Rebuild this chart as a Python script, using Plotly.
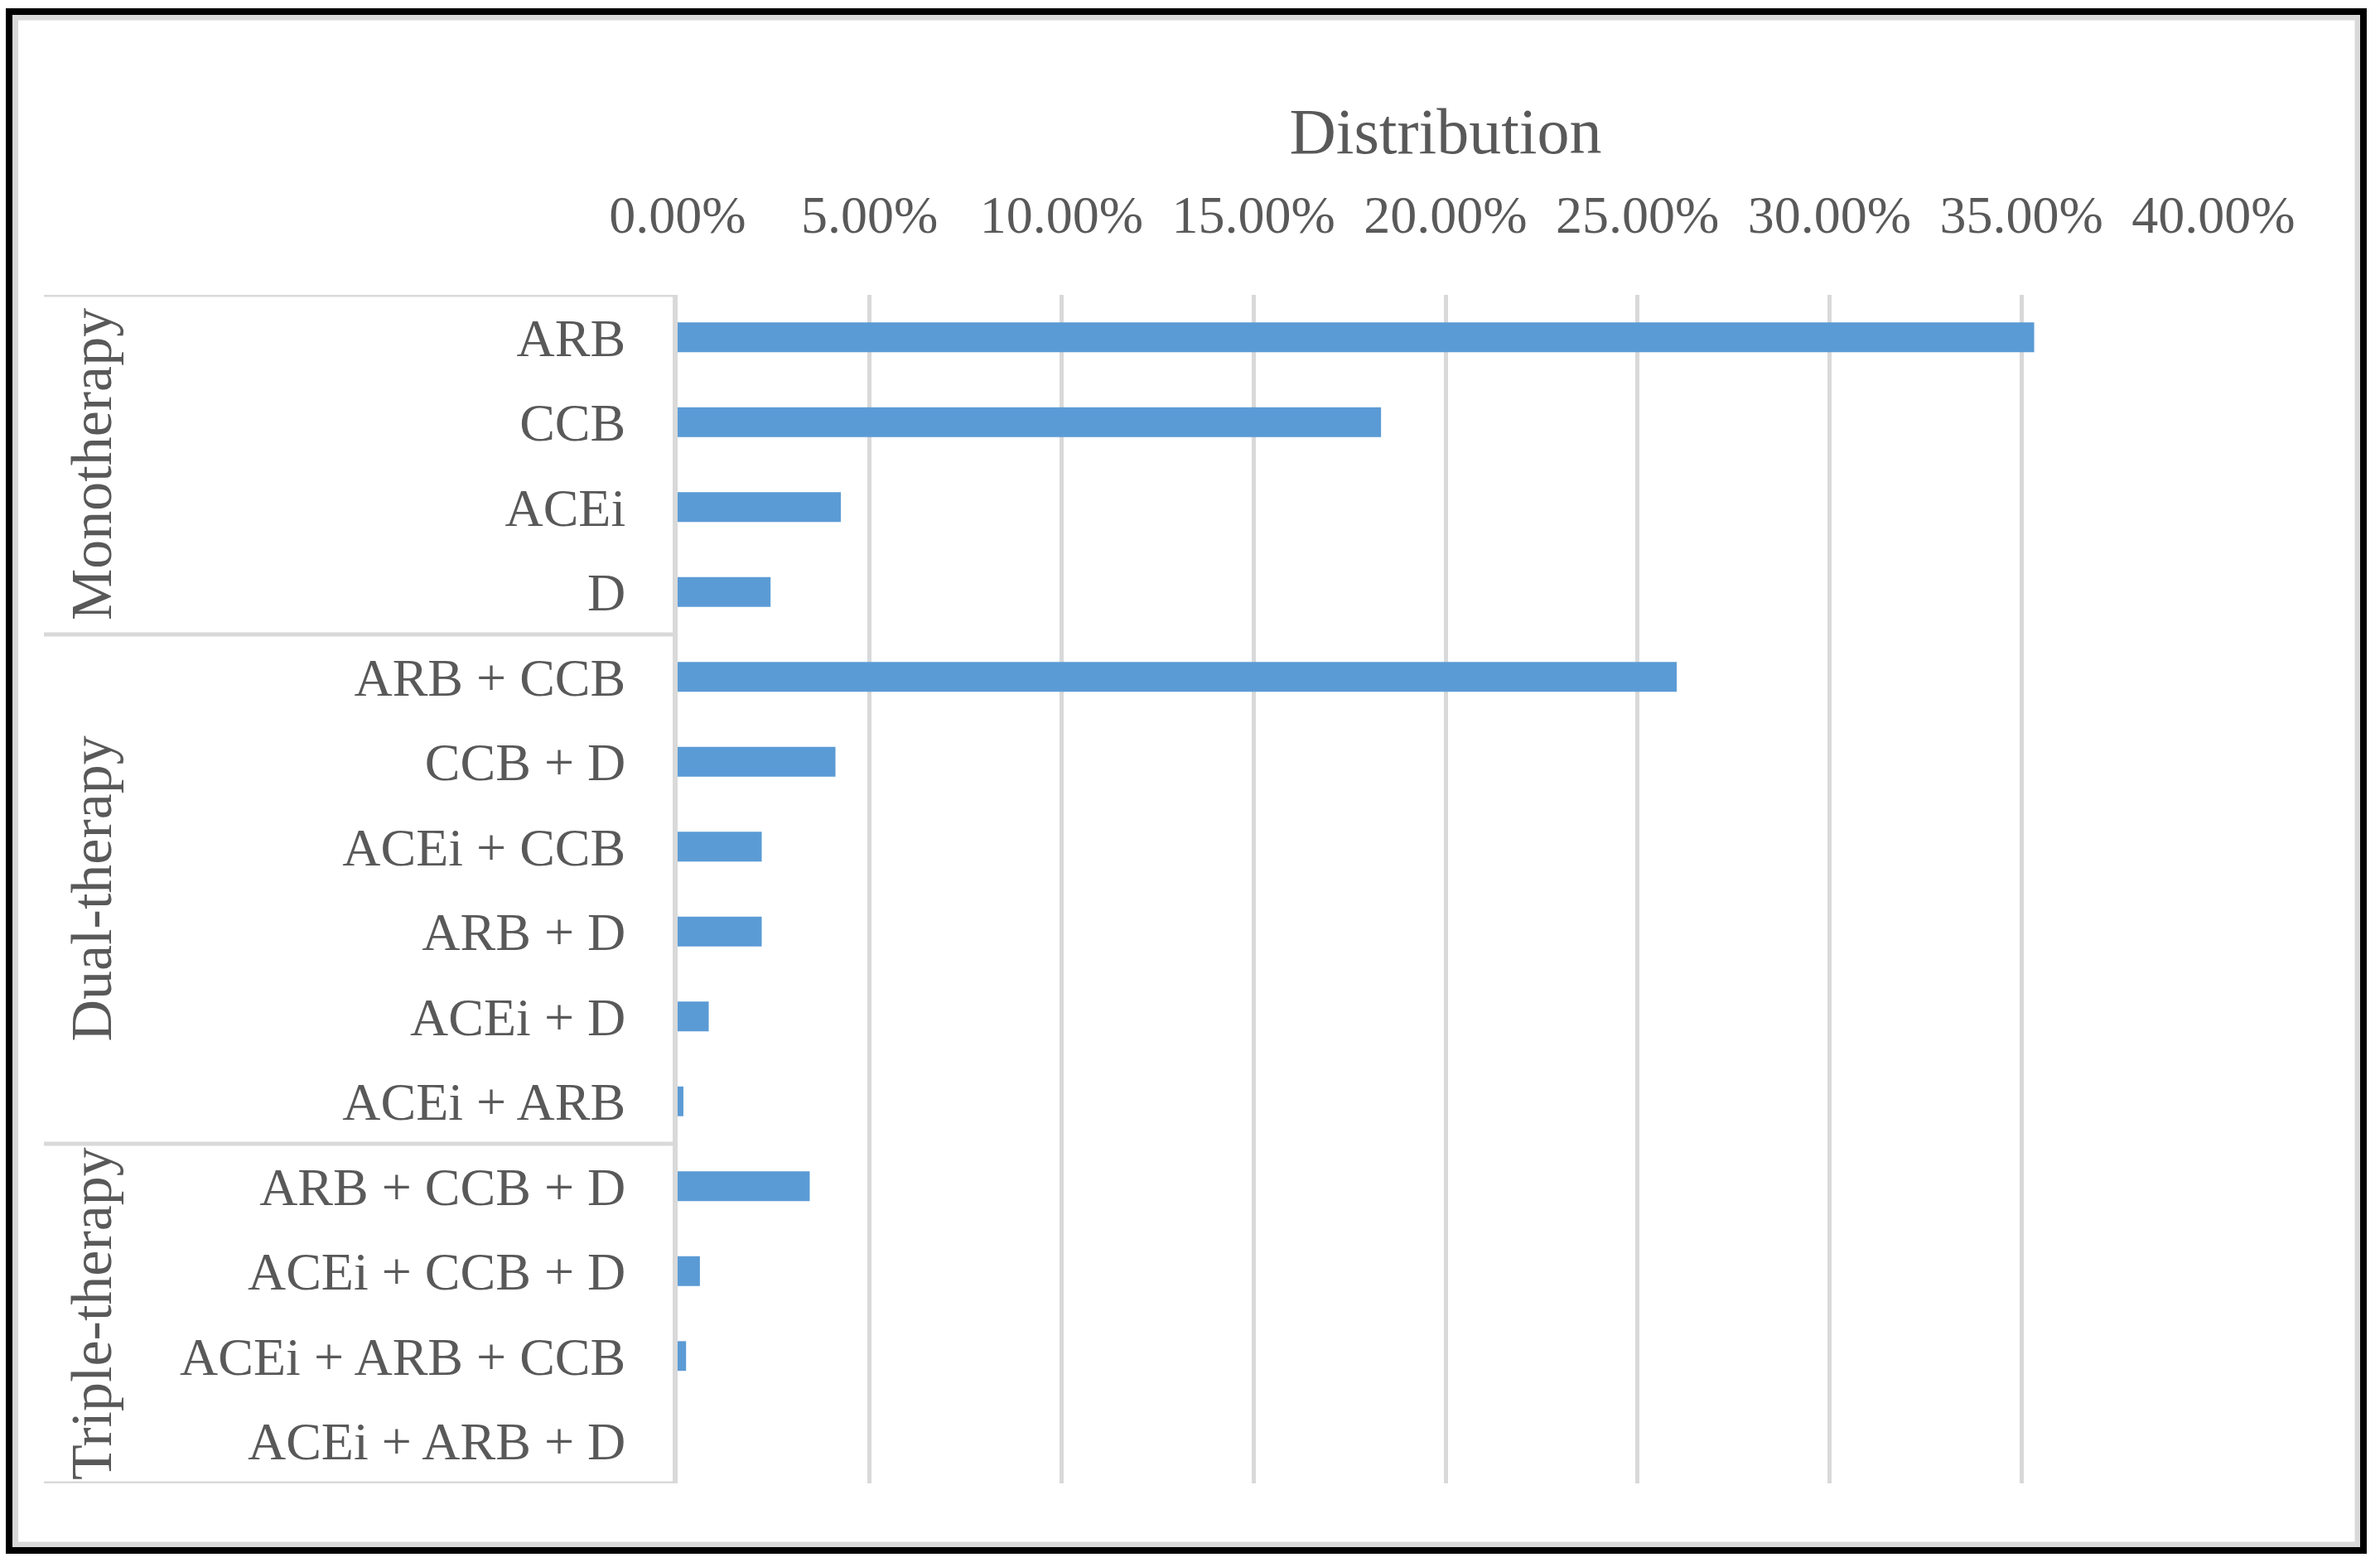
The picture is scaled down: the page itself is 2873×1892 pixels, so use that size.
import plotly.graph_objects as go

# ---------------- data ----------------
categories = [
    "ARB", "CCB", "ACEi", "D",
    "ARB + CCB", "CCB + D", "ACEi + CCB", "ARB + D", "ACEi + D", "ACEi + ARB",
    "ARB + CCB + D", "ACEi + CCB + D", "ACEi + ARB + CCB", "ACEi + ARB + D",
]
values = [
    0.3533, 0.1832, 0.0425, 0.0242,
    0.2602, 0.0411, 0.0219, 0.0219, 0.0081, 0.0015,
    0.0344, 0.0058, 0.0022, 0.0,
]
groups = ["Monotherapy", "Dual-therapy", "Triple-therapy"]
group_sizes = [4, 6, 4]
x_tickvals = [0.0, 0.05, 0.10, 0.15, 0.20, 0.25, 0.30, 0.35, 0.40]
axis_title = "Distribution"

# ---------------- geometry / style ----------------
W, H = 2873, 1892
L, R, T, B = 818, 2672, 356, 1791
FONT = "Liberation Serif"
TXT = "#595959"
GRID = "#d9d9d9"
BAR = "#5b9bd5"


def xp(px):
    return (px - L) / (R - L)


def yp(py):
    return (B - py) / (B - T)


fig = go.Figure(
    go.Bar(
        x=values,
        y=categories,
        orientation="h",
        marker=dict(color=BAR, line=dict(width=0)),
        hovertemplate="%{y}: %{x:.2%}<extra></extra>",
    )
)

n = len(categories)
shapes = []
# group separator lines (left table)
bounds = [0]
for s in group_sizes:
    bounds.append(bounds[-1] + s)
for b in bounds:
    shapes.append(dict(type="line", xref="paper", yref="y",
                       x0=xp(53), x1=0, y0=b - 0.5, y1=b - 0.5,
                       line=dict(color=GRID, width=5)))
# outer frame: grey inner line and black outer line
shapes.append(dict(type="rect", xref="paper", yref="paper",
                   x0=xp(18.5), x1=xp(2846), y0=yp(21), y1=yp(1865),
                   line=dict(color=GRID, width=7), layer="below"))
shapes.append(dict(type="rect", xref="paper", yref="paper",
                   x0=xp(11), x1=xp(2853), y0=yp(14), y1=yp(1872),
                   line=dict(color="black", width=8)))

annotations = []
for g, a, b in zip(groups, bounds[:-1], bounds[1:]):
    annotations.append(dict(
        text=g, xref="paper", yref="y", x=xp(110), y=(a + b - 1) / 2,
        textangle=-90, showarrow=False, xanchor="center", yanchor="middle",
        font=dict(family=FONT, size=70, color=TXT),
    ))

fig.update_layout(
    width=W, height=H,
    margin=dict(l=L, r=W - R, t=T, b=H - B, pad=0),
    paper_bgcolor="white", plot_bgcolor="white",
    showlegend=False,
    bargap=0.65,
    font=dict(family=FONT, color=TXT, size=64),
    shapes=shapes,
    annotations=annotations,
)
fig.update_xaxes(
    side="top", range=[0, 0.40], tickvals=x_tickvals, tickformat=".2%",
    showgrid=True, gridcolor=GRID, gridwidth=5, zeroline=False,
    showline=False, ticks="", ticklabelstandoff=61,
    tickfont=dict(family=FONT, size=64, color=TXT),
    title=dict(text=axis_title, font=dict(family=FONT, size=78, color=TXT), standoff=12),
)
fig.update_yaxes(
    type="category", categoryorder="array", categoryarray=categories,
    range=[n - 0.5, -0.5], showgrid=False, zeroline=False,
    showline=True, linecolor=GRID, linewidth=6, ticks="",
    ticklabelstandoff=44,
    tickfont=dict(family=FONT, size=64, color=TXT),
)

fig.write_html("out.html", config={"displayModeBar": False},
               post_script="document.body.style.margin='0';")
